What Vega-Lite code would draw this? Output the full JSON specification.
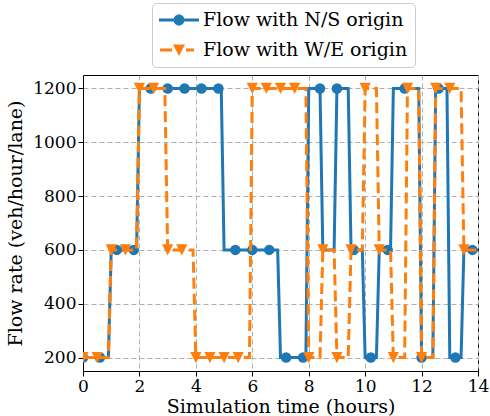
{
  "$schema": "https://vega.github.io/schema/vega-lite/v6.json",
  "width": 395,
  "height": 296,
  "autosize": {"type": "none"},
  "padding": {"left": 83, "top": 75, "right": 12, "bottom": 45},
  "config": {
    "font": "DejaVu Serif",
    "view": {"stroke": "black", "strokeWidth": 1},
    "axis": {
      "labelFont": "DejaVu Serif", "titleFont": "DejaVu Serif",
      "labelFontSize": 17, "titleFontSize": 19, "titleFontWeight": "normal",
      "labelColor": "black", "titleColor": "black",
      "domainColor": "black", "tickColor": "black", "tickSize": 5, "labelPadding": 2,
      "gridColor": "#b0b0b0", "gridDash": [5, 3], "gridWidth": 1
    }
  },
  "datasets": {
    "lines": [
      {"series": "Flow with N/S origin", "t": 0, "v": 200},
      {"series": "Flow with N/S origin", "t": 0.9, "v": 200},
      {"series": "Flow with N/S origin", "t": 1, "v": 600},
      {"series": "Flow with N/S origin", "t": 1.9, "v": 600},
      {"series": "Flow with N/S origin", "t": 2, "v": 1200},
      {"series": "Flow with N/S origin", "t": 4.9, "v": 1200},
      {"series": "Flow with N/S origin", "t": 5, "v": 600},
      {"series": "Flow with N/S origin", "t": 6.9, "v": 600},
      {"series": "Flow with N/S origin", "t": 7, "v": 200},
      {"series": "Flow with N/S origin", "t": 7.9, "v": 200},
      {"series": "Flow with N/S origin", "t": 8, "v": 1200},
      {"series": "Flow with N/S origin", "t": 8.4, "v": 1200},
      {"series": "Flow with N/S origin", "t": 8.5, "v": 600},
      {"series": "Flow with N/S origin", "t": 8.9, "v": 600},
      {"series": "Flow with N/S origin", "t": 9, "v": 1200},
      {"series": "Flow with N/S origin", "t": 9.4, "v": 1200},
      {"series": "Flow with N/S origin", "t": 9.5, "v": 600},
      {"series": "Flow with N/S origin", "t": 9.9, "v": 600},
      {"series": "Flow with N/S origin", "t": 10, "v": 200},
      {"series": "Flow with N/S origin", "t": 10.4, "v": 200},
      {"series": "Flow with N/S origin", "t": 10.5, "v": 600},
      {"series": "Flow with N/S origin", "t": 10.9, "v": 600},
      {"series": "Flow with N/S origin", "t": 11, "v": 1200},
      {"series": "Flow with N/S origin", "t": 11.9, "v": 1200},
      {"series": "Flow with N/S origin", "t": 12, "v": 200},
      {"series": "Flow with N/S origin", "t": 12.4, "v": 200},
      {"series": "Flow with N/S origin", "t": 12.5, "v": 1200},
      {"series": "Flow with N/S origin", "t": 12.9, "v": 1200},
      {"series": "Flow with N/S origin", "t": 13, "v": 200},
      {"series": "Flow with N/S origin", "t": 13.4, "v": 200},
      {"series": "Flow with N/S origin", "t": 13.5, "v": 600},
      {"series": "Flow with N/S origin", "t": 14, "v": 600},
      {"series": "Flow with W/E origin", "t": 0, "v": 200},
      {"series": "Flow with W/E origin", "t": 0.9, "v": 200},
      {"series": "Flow with W/E origin", "t": 1, "v": 600},
      {"series": "Flow with W/E origin", "t": 1.9, "v": 600},
      {"series": "Flow with W/E origin", "t": 2, "v": 1200},
      {"series": "Flow with W/E origin", "t": 2.9, "v": 1200},
      {"series": "Flow with W/E origin", "t": 3, "v": 600},
      {"series": "Flow with W/E origin", "t": 3.9, "v": 600},
      {"series": "Flow with W/E origin", "t": 4, "v": 200},
      {"series": "Flow with W/E origin", "t": 5.9, "v": 200},
      {"series": "Flow with W/E origin", "t": 6, "v": 1200},
      {"series": "Flow with W/E origin", "t": 7.9, "v": 1200},
      {"series": "Flow with W/E origin", "t": 8, "v": 200},
      {"series": "Flow with W/E origin", "t": 8.4, "v": 200},
      {"series": "Flow with W/E origin", "t": 8.5, "v": 600},
      {"series": "Flow with W/E origin", "t": 8.9, "v": 600},
      {"series": "Flow with W/E origin", "t": 9, "v": 200},
      {"series": "Flow with W/E origin", "t": 9.4, "v": 200},
      {"series": "Flow with W/E origin", "t": 9.5, "v": 600},
      {"series": "Flow with W/E origin", "t": 9.9, "v": 600},
      {"series": "Flow with W/E origin", "t": 10, "v": 1200},
      {"series": "Flow with W/E origin", "t": 10.4, "v": 1200},
      {"series": "Flow with W/E origin", "t": 10.5, "v": 600},
      {"series": "Flow with W/E origin", "t": 10.9, "v": 600},
      {"series": "Flow with W/E origin", "t": 11, "v": 200},
      {"series": "Flow with W/E origin", "t": 11.4, "v": 200},
      {"series": "Flow with W/E origin", "t": 11.5, "v": 1200},
      {"series": "Flow with W/E origin", "t": 11.9, "v": 1200},
      {"series": "Flow with W/E origin", "t": 12, "v": 200},
      {"series": "Flow with W/E origin", "t": 12.4, "v": 200},
      {"series": "Flow with W/E origin", "t": 12.5, "v": 1200},
      {"series": "Flow with W/E origin", "t": 13.4, "v": 1200},
      {"series": "Flow with W/E origin", "t": 13.5, "v": 600},
      {"series": "Flow with W/E origin", "t": 14, "v": 600}
    ],
    "markers": [
      {"series": "Flow with N/S origin", "t": 0, "v": 200},
      {"series": "Flow with N/S origin", "t": 0.6, "v": 200},
      {"series": "Flow with N/S origin", "t": 1.2, "v": 600},
      {"series": "Flow with N/S origin", "t": 1.8, "v": 600},
      {"series": "Flow with N/S origin", "t": 2.4, "v": 1200},
      {"series": "Flow with N/S origin", "t": 3.0, "v": 1200},
      {"series": "Flow with N/S origin", "t": 3.6, "v": 1200},
      {"series": "Flow with N/S origin", "t": 4.2, "v": 1200},
      {"series": "Flow with N/S origin", "t": 4.8, "v": 1200},
      {"series": "Flow with N/S origin", "t": 5.4, "v": 600},
      {"series": "Flow with N/S origin", "t": 6.0, "v": 600},
      {"series": "Flow with N/S origin", "t": 6.6, "v": 600},
      {"series": "Flow with N/S origin", "t": 7.2, "v": 200},
      {"series": "Flow with N/S origin", "t": 7.8, "v": 200},
      {"series": "Flow with N/S origin", "t": 8.4, "v": 1200},
      {"series": "Flow with N/S origin", "t": 9.0, "v": 1200},
      {"series": "Flow with N/S origin", "t": 9.6, "v": 600},
      {"series": "Flow with N/S origin", "t": 10.2, "v": 200},
      {"series": "Flow with N/S origin", "t": 10.8, "v": 600},
      {"series": "Flow with N/S origin", "t": 11.4, "v": 1200},
      {"series": "Flow with N/S origin", "t": 12.0, "v": 200},
      {"series": "Flow with N/S origin", "t": 12.6, "v": 1200},
      {"series": "Flow with N/S origin", "t": 13.2, "v": 200},
      {"series": "Flow with N/S origin", "t": 13.8, "v": 600},
      {"series": "Flow with W/E origin", "t": 0, "v": 200},
      {"series": "Flow with W/E origin", "t": 0.5, "v": 200},
      {"series": "Flow with W/E origin", "t": 1, "v": 600},
      {"series": "Flow with W/E origin", "t": 1.5, "v": 600},
      {"series": "Flow with W/E origin", "t": 2, "v": 1200},
      {"series": "Flow with W/E origin", "t": 2.5, "v": 1200},
      {"series": "Flow with W/E origin", "t": 3, "v": 600},
      {"series": "Flow with W/E origin", "t": 3.5, "v": 600},
      {"series": "Flow with W/E origin", "t": 4, "v": 200},
      {"series": "Flow with W/E origin", "t": 4.5, "v": 200},
      {"series": "Flow with W/E origin", "t": 5, "v": 200},
      {"series": "Flow with W/E origin", "t": 5.5, "v": 200},
      {"series": "Flow with W/E origin", "t": 6, "v": 1200},
      {"series": "Flow with W/E origin", "t": 6.5, "v": 1200},
      {"series": "Flow with W/E origin", "t": 7, "v": 1200},
      {"series": "Flow with W/E origin", "t": 7.5, "v": 1200},
      {"series": "Flow with W/E origin", "t": 8, "v": 200},
      {"series": "Flow with W/E origin", "t": 8.5, "v": 600},
      {"series": "Flow with W/E origin", "t": 9, "v": 200},
      {"series": "Flow with W/E origin", "t": 9.5, "v": 600},
      {"series": "Flow with W/E origin", "t": 10, "v": 1200},
      {"series": "Flow with W/E origin", "t": 10.5, "v": 600},
      {"series": "Flow with W/E origin", "t": 11, "v": 200},
      {"series": "Flow with W/E origin", "t": 11.5, "v": 1200},
      {"series": "Flow with W/E origin", "t": 12, "v": 200},
      {"series": "Flow with W/E origin", "t": 12.5, "v": 1200},
      {"series": "Flow with W/E origin", "t": 13, "v": 1200},
      {"series": "Flow with W/E origin", "t": 13.5, "v": 600}
    ]
  },
  "encoding": {
    "x": {
      "field": "t", "type": "quantitative",
      "scale": {"domain": [0, 14], "nice": false, "zero": false},
      "axis": {"values": [0, 2, 4, 6, 8, 10, 12, 14], "format": "d", "title": "Simulation time (hours)", "grid": true, "labelFlush": false, "titlePadding": 3}
    },
    "y": {
      "field": "v", "type": "quantitative",
      "scale": {"domain": [150, 1250], "nice": false, "zero": false},
      "axis": {"values": [200, 400, 600, 800, 1000, 1200], "format": "d", "title": "Flow rate (veh/hour/lane)", "grid": true, "titlePadding": 7}
    }
  },
  "layer": [
    {
      "data": {"name": "markers"},
      "mark": {"type": "point", "filled": true, "opacity": 0},
      "encoding": {
        "color": {
          "field": "series", "type": "nominal",
          "scale": {"domain": ["Flow with N/S origin", "Flow with W/E origin"], "range": ["#1f77b4", "#ff7f0e"]},
          "legend": {
            "title": null, "orient": "none", "legendX": 69, "legendY": -72,
            "direction": "vertical",
            "labelFont": "DejaVu Serif", "labelFontSize": 19, "labelColor": "black", "labelLimit": 400,
            "symbolSize": 400, "symbolOpacity": 1, "symbolStrokeWidth": 0,
            "padding": 7, "rowPadding": 10,
            "fillColor": "white", "strokeColor": "#cccccc", "cornerRadius": 4,
            "symbolOffset": 10, "labelOffset": 14,
            "encode": {"symbols": {"update": {"opacity": {"value": 1}, "fillOpacity": {"value": 1}}}}
          }
        },
        "shape": {
          "field": "series", "type": "nominal",
          "scale": {"domain": ["Flow with N/S origin", "Flow with W/E origin"], "range": [
            "M-2,-0.16H2V0.16H-2ZM0.55,0A0.55,0.55 0 1,1 -0.55,0A0.55,0.55 0 1,1 0.55,0Z",
            "M-1.9,-0.16H-0.7V0.16H-1.9ZM0.7,-0.16H1.5V0.16H0.7ZM-0.6,-0.55H0.6L0,0.6Z"
          ]}
        }
      }
    },
    {
      "data": {"name": "lines"},
      "transform": [{"filter": "datum.series === 'Flow with N/S origin'"}],
      "mark": {"type": "line", "color": "#1f77b4", "strokeWidth": 3, "clip": true}
    },
    {
      "data": {"name": "markers"},
      "transform": [{"filter": "datum.series === 'Flow with N/S origin'"}],
      "mark": {"type": "point", "shape": "circle", "filled": true, "color": "#1f77b4", "opacity": 1, "size": 110, "clip": true}
    },
    {
      "data": {"name": "lines"},
      "transform": [{"filter": "datum.series === 'Flow with W/E origin'"}],
      "mark": {"type": "line", "color": "#ff7f0e", "strokeWidth": 3, "strokeDash": [11, 5], "clip": true}
    },
    {
      "data": {"name": "markers"},
      "transform": [{"filter": "datum.series === 'Flow with W/E origin'"}],
      "mark": {"type": "point", "shape": "M-1,-1L1,-1L0,1Z", "filled": true, "color": "#ff7f0e", "opacity": 1, "size": 125, "clip": true}
    }
  ]
}
